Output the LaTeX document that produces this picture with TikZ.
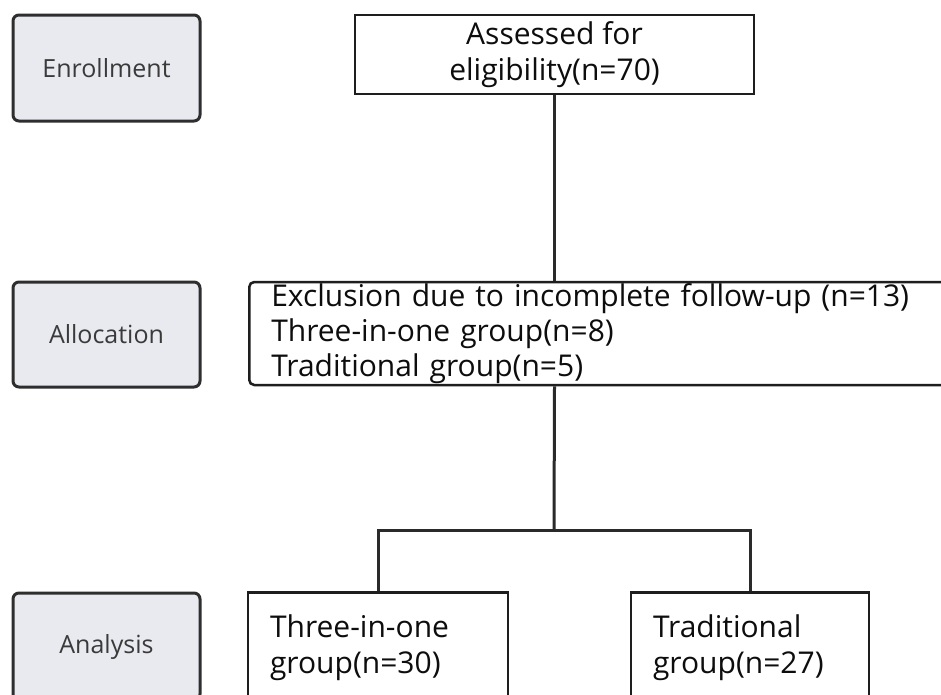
\documentclass[tikz,border=0pt]{standalone}
\usepackage{fontspec}
\setmainfont{Open Sans}
\definecolor{labfill}{HTML}{E8EAEF}
\definecolor{labdraw}{HTML}{2E2E2E}
\definecolor{labtext}{HTML}{3A3A3A}
\definecolor{boxdraw}{HTML}{1E1E1E}
\definecolor{linecol}{HTML}{2A2A2A}
\begin{document}
\begin{tikzpicture}[x=1pt,y=-1pt,
 stage/.style={draw=labdraw, fill=labfill, line width=3pt, rounded corners=6pt,
   text=labtext, font=\fontsize{25}{29}\selectfont, inner sep=0pt,
   minimum width=187pt},
 box/.style={draw=boxdraw, line width=2.5pt, fill=white, text=black!95,
   font=\fontsize{30}{36}\selectfont, inner ysep=0pt},
 conn/.style={draw=linecol, line width=3pt}]
\useasboundingbox (0,0) rectangle (941,694);
\clip (0,0) rectangle (941,694);
\fill[white] (0,0) rectangle (941,694);

% stage labels
\node[stage, minimum height=106pt] (enr) at (106.5,68) {Enrollment};
\node[stage, minimum height=105pt] (alloc) at (106.5,334.5) {Allocation};
\node[stage, minimum height=107pt] (anal) at (106.5,646.5) {Analysis};

% main boxes
\node[box, minimum width=399pt, minimum height=79pt, align=center, inner xsep=0pt] (assess) at (554.5,54.5)
  {Assessed for\\eligibility(n=70)};
\node[box, rounded corners=5pt, anchor=west, minimum height=103pt, inner xsep=22pt,
  text width=690pt, align=left, font=\fontsize{30}{35}\selectfont] (excl) at (248,333.5)
  {Exclusion due to incomplete follow-up (n=13)\\Three-in-one group(n=8)\\Traditional group(n=5)};
\node[box, minimum height=110pt, inner xsep=22pt, text width=216pt, align=left] (three) at (378,647.5)
  {Three-in-one\\group(n=30)};
\node[box, minimum height=110pt, inner xsep=22pt, text width=194pt, align=left] (trad) at (750,647.5)
  {Traditional\\group(n=27)};

% connectors
\coordinate (split) at (554,530);
\draw[conn] (assess.south) -- (assess.south |- excl.north);
\draw[conn] (assess.south |- excl.south) -- (split);
\draw[conn] (three.north) |- (split) -| (trad.north);
\end{tikzpicture}
\end{document}
